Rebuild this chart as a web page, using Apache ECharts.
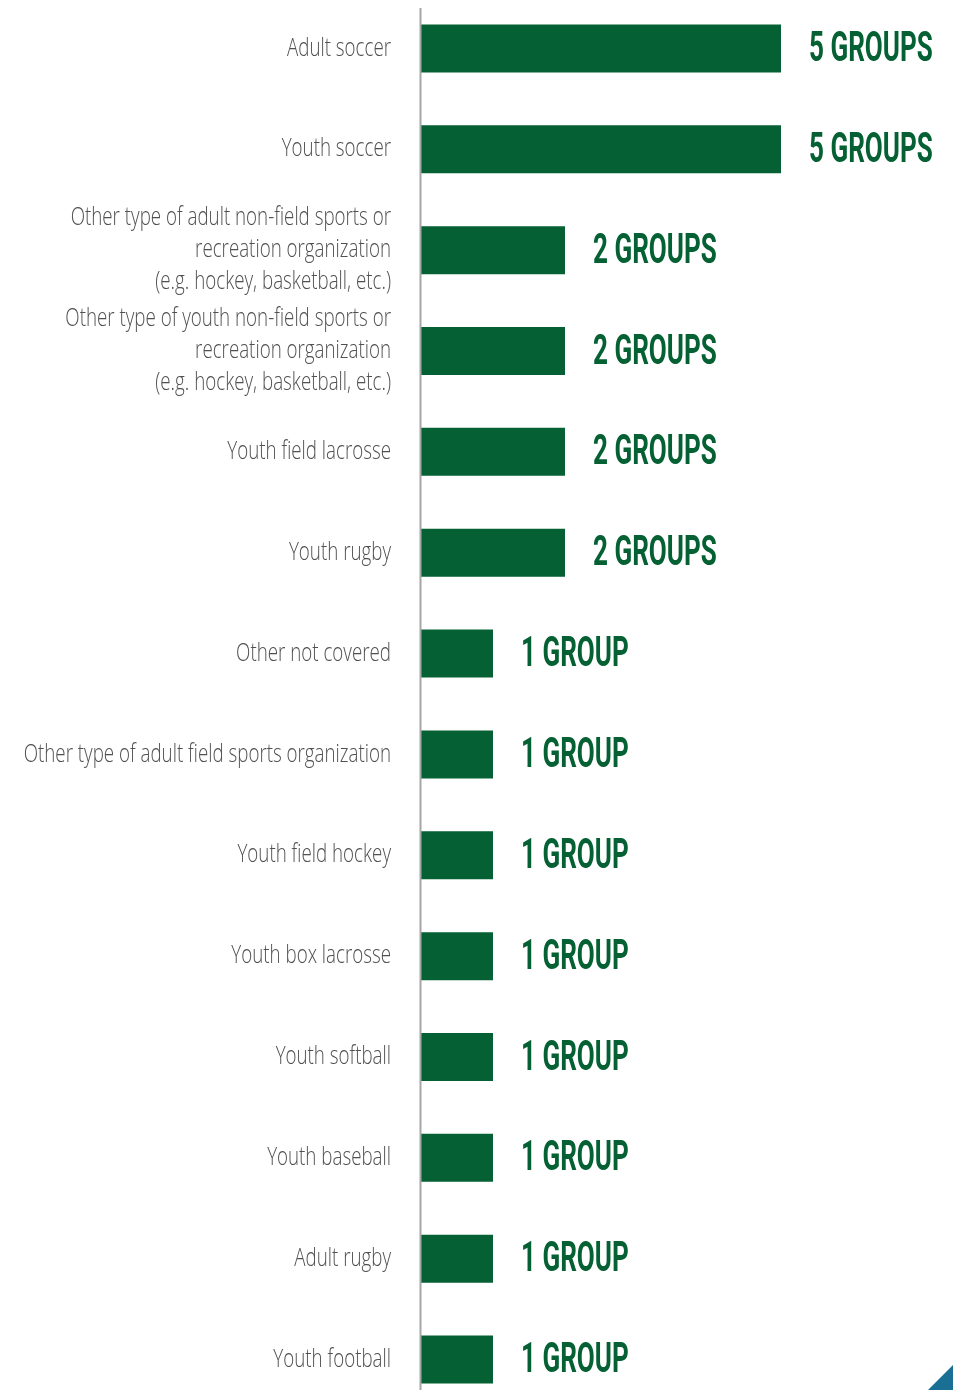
<!DOCTYPE html>
<html>
<head>
<meta charset="utf-8">
<style>
  html, body { margin: 0; padding: 0; background: #ffffff; }
  #chart { width: 953px; height: 1390px; }
</style>
<script src="https://cdn.jsdelivr.net/npm/echarts@6/dist/echarts.min.js"></script>
</head>
<body>
<div id="chart"></div>
<script>
// Organization types, top to bottom
const categories = [
  'Adult soccer',
  'Youth soccer',
  'Other type of adult non-field sports or\nrecreation organization\n(e.g. hockey, basketball, etc.)',
  'Other type of youth non-field sports or\nrecreation organization\n(e.g. hockey, basketball, etc.)',
  'Youth field lacrosse',
  'Youth rugby',
  'Other not covered',
  'Other type of adult field sports organization',
  'Youth field hockey',
  'Youth box lacrosse',
  'Youth softball',
  'Youth baseball',
  'Adult rugby',
  'Youth football'
];

// Number of groups per organization type
const groupCounts = [5, 5, 2, 2, 2, 2, 1, 1, 1, 1, 1, 1, 1, 1];

const GREEN = '#056133';
const chart = echarts.init(document.getElementById('chart'));

function groupText(n) {
  return n + (n === 1 ? ' GROUP' : ' GROUPS');
}

chart.setOption({
  animation: false,
  backgroundColor: '#ffffff',
  grid: {
    left: 421, top: -2, width: 360, height: 1412,
    containLabel: false, outerBoundsMode: 'none'
  },
  xAxis: { type: 'value', min: 0, max: 5, show: false },
  yAxis: {
    type: 'category',
    data: categories,
    inverse: true,
    axisLine: { show: false },
    axisTick: { show: false },
    axisLabel: { show: false }
  },
  series: [
    {
      type: 'bar',
      data: groupCounts,
      barWidth: 48,
      itemStyle: { color: GREEN },
      silent: true
    },
    {
      // category names, set in narrow lettering right-aligned to the axis
      type: 'custom',
      data: categories.map((c, i) => [0, i]),
      renderItem: function (params, api) {
        const pt = api.coord([0, api.value(1)]);
        return {
          type: 'text',
          x: pt[0] - 30,
          y: pt[1],
          scaleX: 0.75,
          style: {
            text: categories[params.dataIndex],
            x: 0,
            y: 0,
            fill: '#505050',
            fontFamily: 'Open Sans',
            fontWeight: 300,
            fontSize: 25,
            lineHeight: 32,
            align: 'right',
            verticalAlign: 'middle'
          }
        };
      },
      silent: true
    },
    {
      // value labels, condensed display lettering
      type: 'custom',
      data: groupCounts.map((v, i) => [v, i]),
      renderItem: function (params, api) {
        const pt = api.coord([api.value(0), api.value(1)]);
        return {
          type: 'text',
          x: pt[0] + 28,
          y: pt[1] + 2,
          scaleX: 0.62,
          style: {
            text: groupText(api.value(0)),
            x: 0,
            y: 0,
            fill: GREEN,
            fontFamily: 'Roboto',
            fontWeight: 'bold',
            fontSize: 42,
            align: 'left',
            verticalAlign: 'middle'
          }
        };
      },
      silent: true,
      z: 5
    }
  ],
  graphic: [
    {
      type: 'line',
      shape: { x1: 420.5, y1: 8, x2: 420.5, y2: 1390 },
      style: { stroke: '#a6a6a6', lineWidth: 2 },
      z: 10
    },
    {
      type: 'polygon',
      shape: { points: [[928, 1390], [953, 1365], [953, 1390]] },
      style: { fill: '#1a6f95' }
    }
  ]
});
</script>
</body>
</html>
